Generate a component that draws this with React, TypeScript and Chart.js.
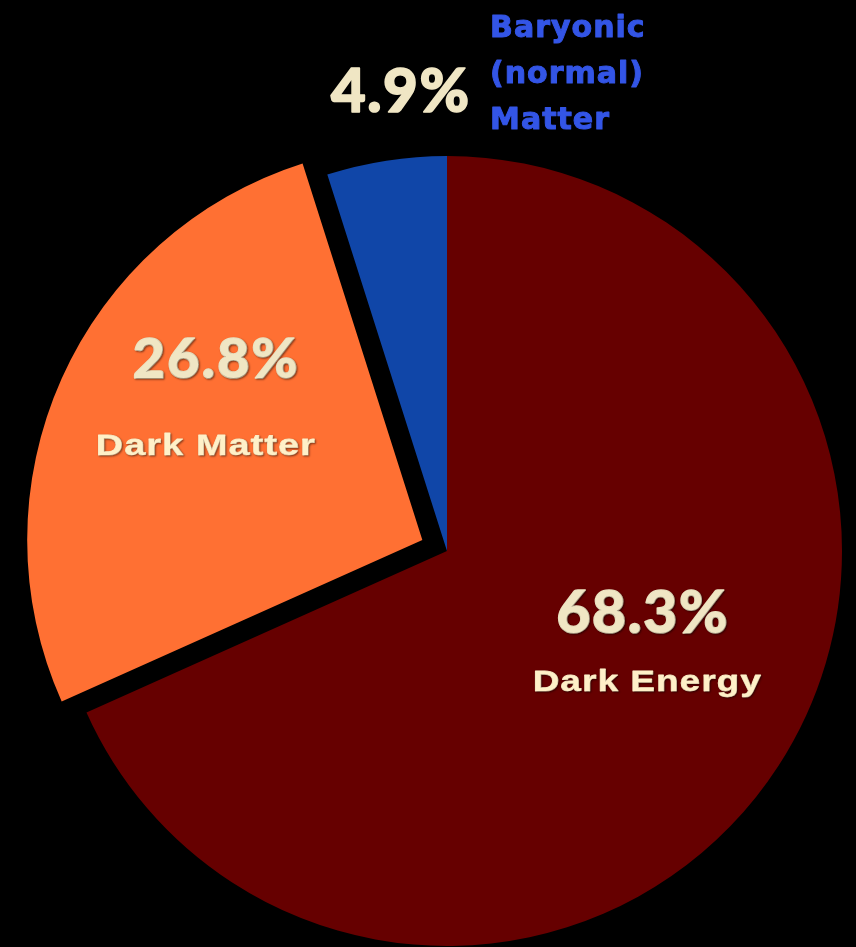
import React, { useEffect, useRef } from "react";
import { Chart, registerables } from "chart.js";

Chart.register(...registerables);

// Composition of the universe (energy density share, %)
const categories = ["Dark Energy", "Dark Matter", "Baryonic (normal) Matter"];
const shares = [68.3, 26.8, 4.9];
const sliceColors = ["#660000", "#FF7033", "#1046A8"];
const sliceOffsets = [0, 108, 0];

const W = 856;
const H = 947;
const RADIUS = 395;

type Caption = {
  lines: string[];
  font: string;
  color: string;
  align: CanvasTextAlign;
  spacing: number;
  stretch: number;
  weight: number;
  lineHeight: number;
  // anchor relative to the slice apex, in units of the radius
  dx: number;
  dy: number;
  shadow: boolean;
};

const valueFont = (px: number) => `900 ${px}px Lato, "DejaVu Sans", sans-serif`;
const nameFont = 'bold 30px "Liberation Sans", Arial, sans-serif';

const percentCaptions: Caption[] = [
  { lines: [`${shares[0]}%`], font: valueFont(59), color: "#F0E6C4", align: "center", spacing: 1.5, stretch: 1, weight: 1.6, lineHeight: 0, dx: 0.494, dy: 0.208, shadow: true },
  { lines: [`${shares[1]}%`], font: valueFont(56), color: "#F0E6C4", align: "center", spacing: 2, stretch: 1, weight: 1.6, lineHeight: 0, dx: -0.524, dy: -0.41, shadow: true },
  { lines: [`${shares[2]}%`], font: valueFont(60), color: "#F0E6C4", align: "center", spacing: 1.5, stretch: 1, weight: 1.6, lineHeight: 0, dx: -0.119, dy: -1.111, shadow: false },
];

const nameCaptions: Caption[] = [
  { lines: [categories[0]], font: nameFont, color: "#FFF0C8", align: "center", spacing: 1, stretch: 1.22, weight: 0.8, lineHeight: 0, dx: 0.506, dy: 0.354, shadow: true },
  { lines: [categories[1]], font: nameFont, color: "#FFF0C8", align: "center", spacing: 1, stretch: 1.25, weight: 0.8, lineHeight: 0, dx: -0.549, dy: -0.215, shadow: true },
  { lines: ["Baryonic", "(normal)", "Matter"], font: 'bold 30px "DejaVu Sans", sans-serif', color: "#3355E6", align: "left", spacing: 1, stretch: 1, weight: 1, lineHeight: 46, dx: 0.109, dy: -1.301, shadow: false },
];

const captionPlugin = {
  id: "sliceCaptions",
  afterDatasetsDraw(chart: any) {
    const ctx: CanvasRenderingContext2D = chart.ctx;
    const meta = chart.getDatasetMeta(0);
    const draw = (c: Caption, i: number) => {
      const arc = meta.data[i];
      const off = (sliceOffsets[i] || 0) / 4;
      const mid = (arc.startAngle + arc.endAngle) / 2;
      const bx = arc.x + Math.cos(mid) * off;
      const by = arc.y + Math.sin(mid) * off;
      const r = arc.outerRadius;
      c.lines.forEach((line, k) => {
        ctx.save();
        ctx.font = c.font;
        ctx.fillStyle = c.color;
        ctx.strokeStyle = c.color;
        ctx.lineWidth = c.weight;
        ctx.lineJoin = "round";
        ctx.textAlign = c.align;
        ctx.textBaseline = "alphabetic";
        (ctx as any).letterSpacing = `${c.spacing}px`;
        if (c.shadow) {
          ctx.shadowColor = "rgba(0,0,0,0.4)";
          ctx.shadowBlur = 2;
          ctx.shadowOffsetX = 1;
          ctx.shadowOffsetY = 1;
        }
        const x = bx + c.dx * r + (c.align === "center" ? (c.spacing * c.stretch) / 2 : 0);
        const y = by + c.dy * r + k * c.lineHeight;
        ctx.translate(x, y);
        ctx.scale(c.stretch, 1);
        if (c.weight > 0) ctx.strokeText(line, 0, 0);
        ctx.fillText(line, 0, 0);
        ctx.restore();
      });
    };
    percentCaptions.forEach(draw);
    nameCaptions.forEach(draw);
  },
};

export default function App() {
  const ref = useRef<HTMLCanvasElement>(null);

  useEffect(() => {
    if (!ref.current) return;
    const chart = new Chart(ref.current, {
      type: "pie",
      data: {
        labels: categories,
        datasets: [
          {
            data: shares,
            backgroundColor: sliceColors,
            borderWidth: 0,
            offset: sliceOffsets,
            hoverOffset: 0,
          },
        ],
      },
      options: {
        responsive: false,
        animation: false,
        radius: RADIUS,
        layout: { padding: { left: 38, right: 0, top: 155, bottom: 0 } },
        plugins: {
          legend: { display: false },
          tooltip: { enabled: false },
        },
        events: [],
      },
      plugins: [captionPlugin],
    });
    return () => chart.destroy();
  }, []);

  return (
    <div style={{ position: "absolute", left: 0, top: 0, width: W, height: H, background: "#000" }}>
      <canvas ref={ref} width={W} height={H} style={{ display: "block" }} />
    </div>
  );
}
